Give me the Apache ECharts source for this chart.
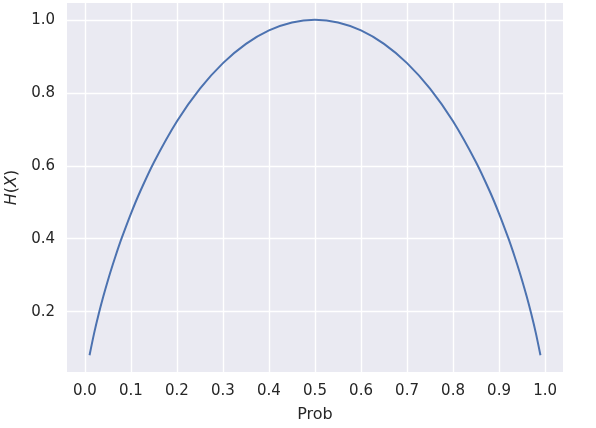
<!DOCTYPE html>
<html>
<head>
<meta charset="utf-8">
<script src="https://cdn.jsdelivr.net/npm/echarts@6/dist/echarts.min.js"></script>
<style>
  html, body { margin: 0; padding: 0; background: #fff; }
  #chart { width: 596px; height: 428px; }
</style>
</head>
<body>
<div id="chart"></div>
<script>
// probability values and the curve
const probs = [0.01, 0.02, 0.03, 0.04, 0.05, 0.06, 0.07, 0.08, 0.10, 0.12, 0.15, 0.20, 0.25, 0.30, 0.35, 0.40, 0.45, 0.50,
  0.55, 0.60, 0.65, 0.70, 0.75, 0.80, 0.85, 0.88, 0.90, 0.92, 0.93, 0.94, 0.95, 0.96, 0.97, 0.98, 0.99]
const entropy = [0.0808, 0.1414, 0.1944, 0.2423, 0.2864, 0.3274, 0.3659, 0.4022, 0.4690, 0.5294, 0.6098, 0.7219, 0.8113, 0.8813, 0.9341, 0.9710, 0.9928, 1.0,
  0.9928, 0.9710, 0.9341, 0.8813, 0.8113, 0.7219, 0.6098, 0.5294, 0.4690, 0.4022, 0.3659, 0.3274, 0.2864, 0.2423, 0.1944, 0.1414, 0.0808]
const xTicks = [0, 0.1, 0.2, 0.3, 0.4, 0.5, 0.6, 0.7, 0.8, 0.9, 1.0]
const yTicks = [0.2, 0.4, 0.6, 0.8, 1.0]

const textColor = '#262626'
const chart = echarts.init(document.getElementById('chart'), null, { renderer: 'canvas' })

chart.setOption({
  animation: false,
  grid: {
    left: 67, right: 33, top: 3, bottom: 56,
    outerBoundsMode: 'none', containLabel: false,
    show: true, backgroundColor: '#eaeaf2', borderWidth: 0
  },
  xAxis: {
    type: 'value',
    min: -0.039, max: 1.039,
    name: 'Prob', nameLocation: 'middle', nameGap: 35,
    nameTextStyle: { color: textColor, fontSize: 16, fontFamily: 'DejaVu Sans' },
    axisLine: { show: false },
    axisTick: { show: false, customValues: xTicks },
    axisLabel: {
      customValues: xTicks, color: textColor, fontSize: 15, fontFamily: 'DejaVu Sans', margin: 12,
      formatter: v => v.toFixed(1)
    },
    splitLine: { show: true, lineStyle: { color: '#ffffff', width: 1.4 } }
  },
  yAxis: {
    type: 'value',
    min: 0.0348, max: 1.046,
    name: '{i|H}({i|X})', nameLocation: 'middle', nameGap: 46,
    nameTextStyle: {
      color: textColor, fontSize: 16, fontFamily: 'DejaVu Sans',
      rich: { i: { fontStyle: 'italic', fontSize: 16, fontFamily: 'DejaVu Sans', color: textColor } }
    },
    axisLine: { show: false },
    axisTick: { show: false, customValues: yTicks },
    axisLabel: {
      customValues: yTicks, color: textColor, fontSize: 15, fontFamily: 'DejaVu Sans', margin: 12,
      formatter: v => v.toFixed(1)
    },
    splitLine: { show: true, lineStyle: { color: '#ffffff', width: 1.4 } }
  },
  series: [{
    type: 'line',
    data: probs.map((p, i) => [p, entropy[i]]),
    smooth: 0.3,
    showSymbol: false,
    lineStyle: { color: '#4c72b0', width: 2 }
  }]
})
</script>
</body>
</html>
